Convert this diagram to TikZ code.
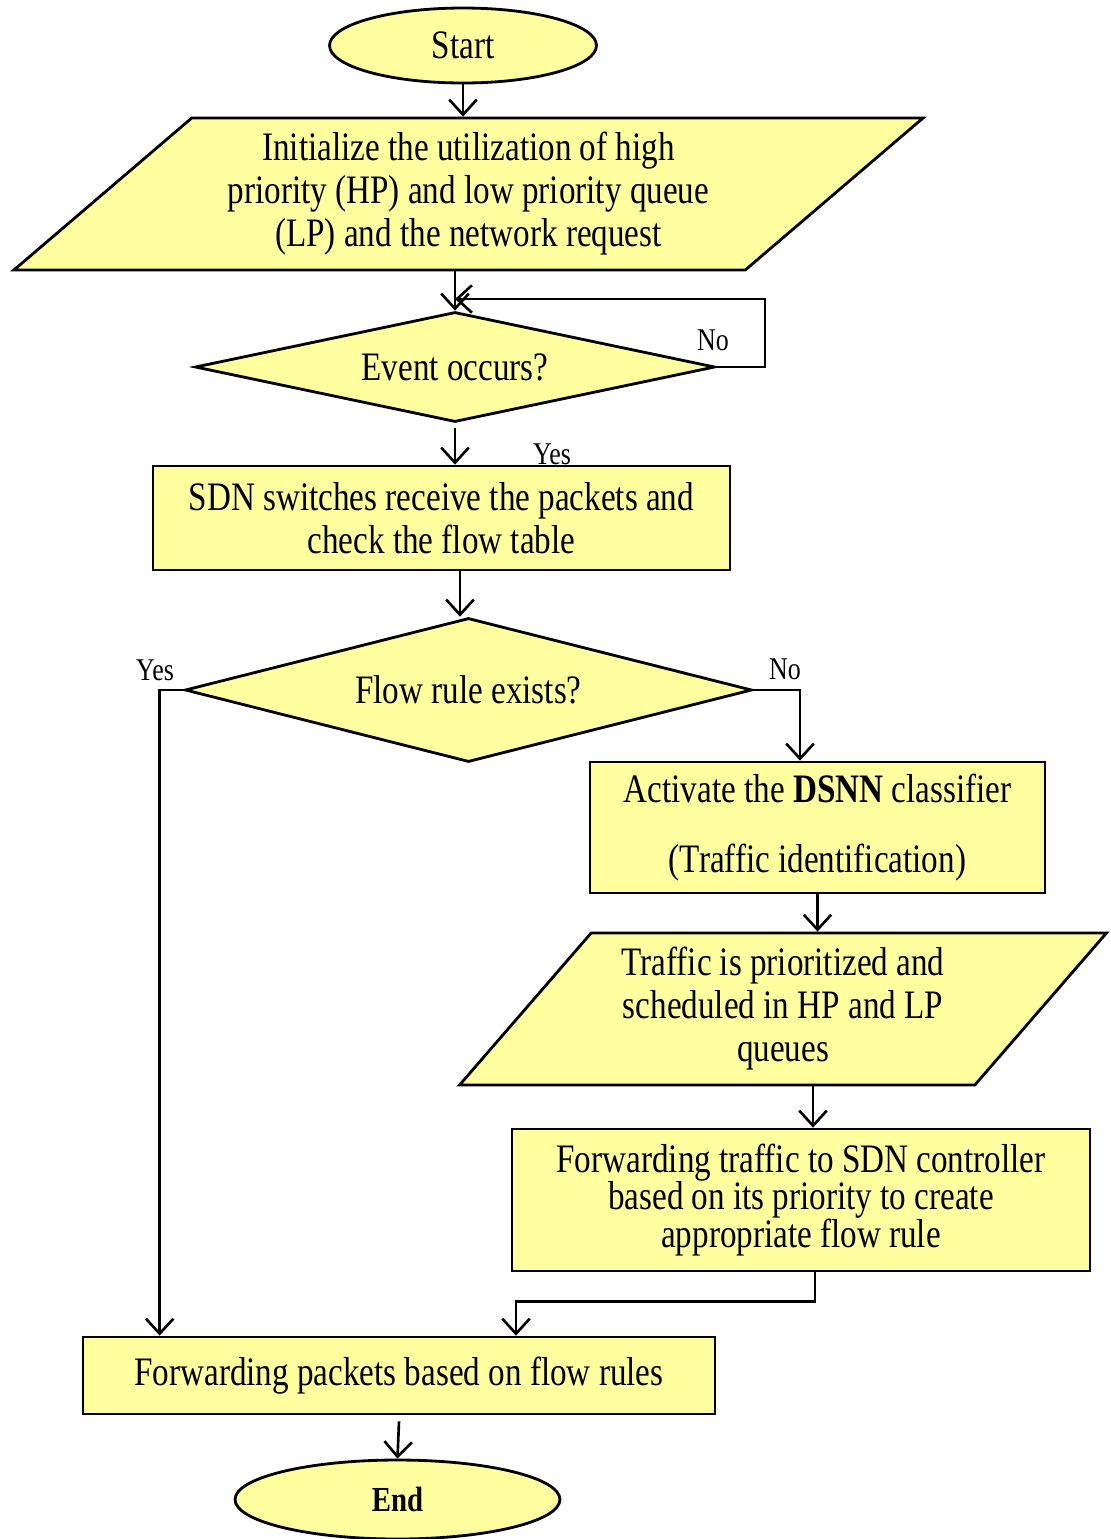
\documentclass[tikz,border=0pt]{standalone}
\usepackage{fontspec}
\setmainfont{Liberation Serif}[FakeStretch=0.82]
\usetikzlibrary{arrows.meta,shapes.geometric}
\definecolor{boxyellow}{RGB}{255,255,160}
\tikzset{
base/.style={draw=black,line width=1.6pt,fill=boxyellow,align=center,inner sep=2pt,font=\fontsize{23}{24.5}\selectfont},
term/.style={base,ellipse},
io/.style={base,trapezium,trapezium stretches=true},
box/.style={base,rectangle},
decide/.style={base,diamond},
arr/.style={line width=1.5pt,-{Straight Barb[length=3mm,width=5.5mm]}},
lbl/.style={font=\fontsize{18}{20}\selectfont}
}

\begin{document}
\begin{tikzpicture}[x=0.02cm,y=-0.02cm]
\useasboundingbox (0,0) rectangle (1110,1539);
\node at (463,45.5)[term,minimum width=5.34cm,minimum height=1.5cm](start){Start};
\node at (468.5,194)[io,trapezium left angle=39.7,trapezium right angle=140.3,minimum width=18.26cm,minimum height=3.04cm](init){Initialize the utilization of high\\priority (HP) and low priority queue\\(LP) and the network request};
\node at (455,367)[decide,aspect=4.73,minimum width=10.4cm,minimum height=2.2cm](event){Event occurs?};
\node at (441.5,518)[box,minimum width=11.54cm,minimum height=2.08cm](sdn){SDN switches receive the packets and\\check the flow table};
\node at (468.5,690)[decide,aspect=3.94,minimum width=11.34cm,minimum height=2.88cm](flow){Flow rule exists?};
\node at (817.5,827.5)[box,minimum width=9.1cm,minimum height=2.62cm](dsnn){Activate the \textbf{DSNN} classifier\\[15pt](Traffic identification)};
\node at (783,1009)[io,trapezium left angle=49,trapezium right angle=131,minimum width=13cm,minimum height=3.04cm](sched){Traffic is prioritized and\\scheduled in HP and LP\\queues};
\node at (801,1200)[box,minimum width=11.56cm,minimum height=2.84cm,font=\fontsize{23}{21.3}\selectfont](ctrl){Forwarding traffic to SDN controller\\based on its priority to create\\appropriate flow rule};
\node at (399,1375.5)[box,minimum width=12.64cm,minimum height=1.54cm](fwd){Forwarding packets based on flow rules};
\node at (397.5,1499.5)[term,minimum width=6.5cm,minimum height=1.58cm,font=\fontsize{20}{22}\selectfont\bfseries](fin){End};
\node at (713,340)[lbl](no1){No};
\node at (552,454)[lbl](yes1){Yes};
\node at (155,670)[lbl](yes2){Yes};
\node at (785,669)[lbl](no2){No};
\coordinate (loop) at (765,299);
\draw[arr] (start.south) -- (start.south |- init.north);
\draw[arr] (event.north |- init.south) -- (event.north);
\draw[arr] (event.east) -| (loop) -- (loop -| event.north);
\draw[arr] ([yshift=-0.1cm]event.south) -- (event.south |- sdn.north);
\draw[arr] ([xshift=0.37cm]sdn.south) -- ([xshift=0.37cm]sdn.south |- flow.north);
\draw[arr] (flow.west) -| ([xshift=1.56cm]fwd.north west);
\draw[arr] (flow.east) -| ([xshift=-0.35cm]dsnn.north);
\draw[arr] (dsnn.south) -- (dsnn.south |- sched.north);
\draw[arr] ([xshift=0.6cm]sched.south) -- ([xshift=0.6cm]sched.south |- ctrl.north);
\draw[arr] ([xshift=0.28cm]ctrl.south) -- ++(0,29) -| ([xshift=2.34cm]fwd.north);
\draw[arr] ([yshift=-0.12cm]fwd.south) -- (fin.north);
\end{tikzpicture}
\end{document}
